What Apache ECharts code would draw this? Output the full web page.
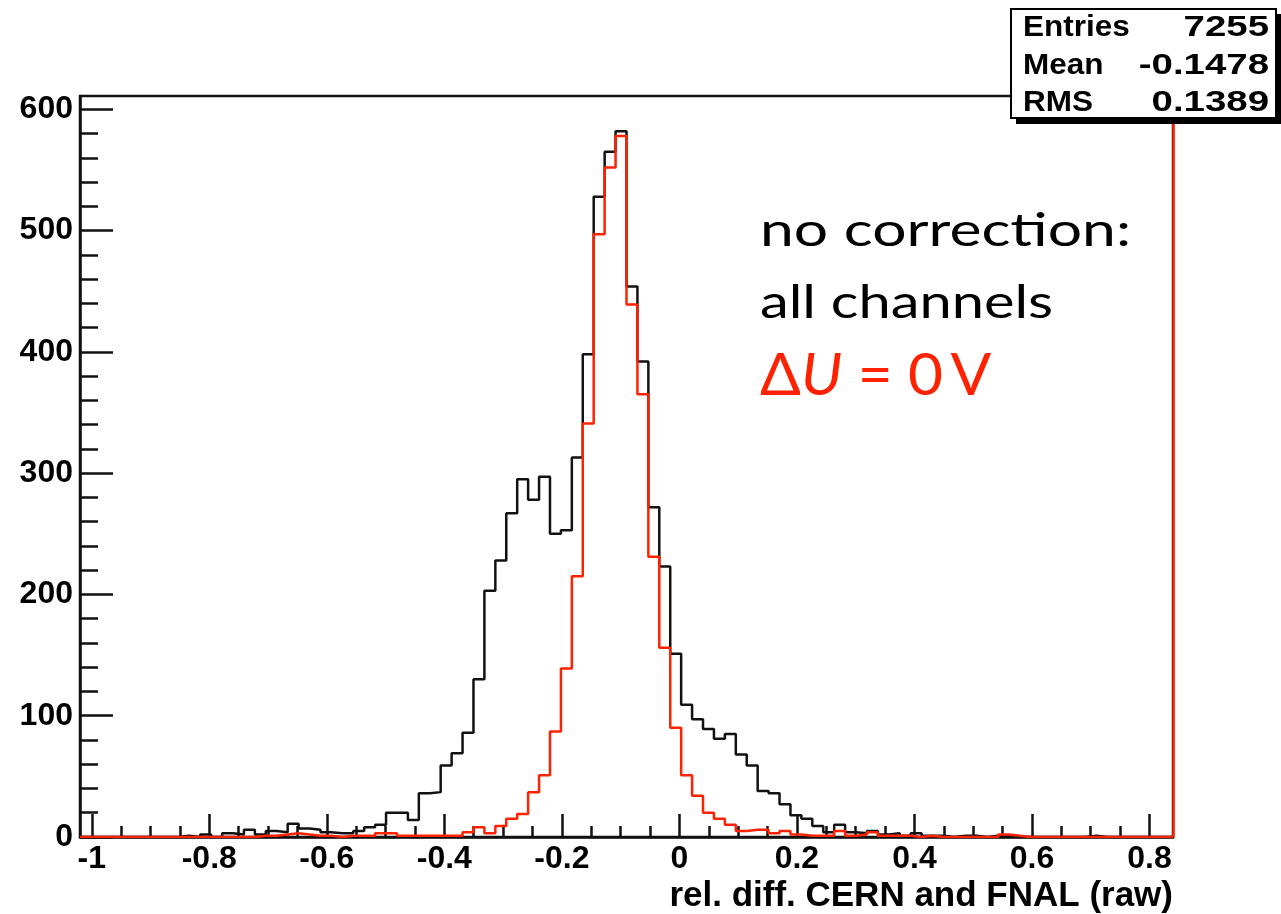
<!DOCTYPE html>
<html><head><meta charset="utf-8">
<script src="https://cdn.jsdelivr.net/npm/echarts@6/dist/echarts.min.js"></script>
<style>html,body{margin:0;padding:0;background:#fff}#c{width:1281px;height:914px}</style>
</head><body><div id="c"></div>
<script>
// ---- data ----
const binLow = -1.02;
const binWidth = 0.0186;
const xMin = -1.02;
const xMax = 0.84;
const yMin = 0;
const yMax = 611;

const blackCounts = [
  0,0,0,0,0,0,0,0,0,1,
  0,2,0,3,2,6,2,5,4,11,
  7,6,4,3,3,5,8,10,20,20,
  14,36,37,59,69,86,130,203,228,267,
  295,278,297,250,253,313,398,528,565,582,
  454,392,272,223,151,109,97,89,81,85,
  68,59,38,36,27,18,15,9,4,10,
  4,3,5,2,3,1,3,1,1,0,
  1,1,0,1,1,0,0,0,0,0,
  0,0,1,0,0,0,0,0,0,0
];
const redCounts = [
  0,0,0,0,0,0,0,0,0,0,
  0,0,0,0,0,0,1,1,2,3,
  2,1,1,0,1,1,1,3,3,1,
  1,1,1,1,1,4,8,3,9,15,
  19,37,51,87,139,215,341,497,552,578,
  439,365,231,156,90,51,34,20,15,10,
  5,6,6,3,5,2,1,1,1,5,
  1,2,4,1,1,1,0,1,0,0,
  0,0,0,0,2,1,0,0,0,0,
  0,0,0,0,0,0,0,0,0,0
];

const xMajorTicks = [-1, -0.8, -0.6, -0.4, -0.2, 0, 0.2, 0.4, 0.6, 0.8];
const xMinorTicks = [-1, -0.95, -0.9, -0.85, -0.8, -0.75, -0.7, -0.65, -0.6, -0.55, -0.5, -0.45, -0.4, -0.35, -0.3, -0.25, -0.2, -0.15, -0.1, -0.05, 0, 0.05, 0.1, 0.15, 0.2, 0.25, 0.3, 0.35, 0.4, 0.45, 0.5, 0.55, 0.6, 0.65, 0.7, 0.75, 0.8];
const yMajorTicks = [0, 100, 200, 300, 400, 500, 600];
const yMinorTicks = [0,20,40,60,80,100,120,140,160,180,200,220,240,260,280,300,320,340,360,380,400,420,440,460,480,500,520,540,560,580,600];

const xTitle = 'rel. diff. CERN and FNAL (raw)';
const statsLabels = ['Entries', 'Mean', 'RMS'];
const statsValues = ['7255', '-0.1478', '0.1389'];
const noteLines = ['no correction:', 'all channels'];

// ---- build ----
function stepData(counts) {
  const d = counts.map((v, i) => [binLow + i * binWidth, v]);
  d.push([binLow + counts.length * binWidth, counts[counts.length - 1]]);
  return d;
}

const RED = '#ff2200';
const INK = '#111';
const LBL = {fontFamily: 'Liberation Sans, Arial, sans-serif', fontWeight: 'bold', fontSize: 32, color: '#000'};

const chart = echarts.init(document.getElementById('c'), null, {renderer: 'canvas'});

const statsFont = 'bold 30px "Liberation Sans", Arial, sans-serif';
const statsGraphics = [];
statsGraphics.push({type: 'rect', z: 100, shape: {x: 1016, y: 14, width: 270, height: 110}, style: {fill: '#000'}});
statsGraphics.push({type: 'rect', z: 101, shape: {x: 1011, y: 9, width: 265, height: 109}, style: {fill: '#fff', stroke: '#000', lineWidth: 2}});
statsLabels.forEach((t, i) => {
  statsGraphics.push({type: 'text', z: 102, x: 1023, y: 28 + i * 37.5, scaleX: 1.05,
    style: {text: t, fill: '#000', font: statsFont, textAlign: 'left', textVerticalAlign: 'middle'}});
  statsGraphics.push({type: 'text', z: 102, x: 1269, y: 28 + i * 37.5, scaleX: 1.28,
    style: {text: statsValues[i], fill: '#000', font: statsFont, textAlign: 'right', textVerticalAlign: 'middle'}});
});

const noteFont = 'Lato, "Open Sans", sans-serif';
const noteGraphics = [
  {type: 'text', z: 50, x: 760, y: 231, scaleX: 1.29, style: {text: noteLines[0], fill: '#000', font: '47px ' + noteFont, textVerticalAlign: 'middle'}},
  {type: 'text', z: 50, x: 760, y: 303, scaleX: 1.23, style: {text: noteLines[1], fill: '#000', font: '47px ' + noteFont, textVerticalAlign: 'middle'}},
  {type: 'text', z: 50, x: 760, y: 376, scaleX: 1.04, style: {
    text: '{a|Δ}{b|U}{a| = 0\u2009V}', textVerticalAlign: 'middle',
    rich: {
      a: {fontFamily: noteFont, fontSize: 58, fill: RED, color: RED},
      b: {fontFamily: noteFont, fontSize: 58, fontStyle: 'italic', fill: RED, color: RED}
    }
  }}
];

const option = {
  animation: false,
  backgroundColor: '#fff',
  grid: {left: 80, top: 96, width: 1093, height: 742, show: true, borderColor: INK, borderWidth: 2.5, backgroundColor: 'transparent', containLabel: false},
  xAxis: [
    {type: 'value', position: 'bottom', min: xMin, max: xMax,
     axisLine: {show: true, onZero: false, lineStyle: {color: INK, width: 2.5}},
     axisTick: {show: true, inside: true, length: 23, customValues: xMajorTicks, lineStyle: {color: INK, width: 2.5}},
     axisLabel: Object.assign({show: true, margin: 6, customValues: xMajorTicks, formatter: v => String(v)}, LBL),
     splitLine: {show: false},
     name: xTitle, nameLocation: 'end', nameGap: 0,
     nameTextStyle: Object.assign({}, LBL, {fontSize: 35, align: 'right', verticalAlign: 'top', padding: [42, 0, 0, 0]})
    },
    {type: 'value', position: 'bottom', min: xMin, max: xMax,
     axisLine: {show: false, onZero: false},
     axisTick: {show: true, inside: true, length: 11, customValues: xMinorTicks, lineStyle: {color: INK, width: 2.5}},
     axisLabel: {show: false}, splitLine: {show: false}
    }
  ],
  yAxis: [
    {type: 'value', position: 'left', min: yMin, max: yMax,
     axisLine: {show: true, onZero: false, lineStyle: {color: INK, width: 2.5}},
     axisTick: {show: true, inside: true, length: 33, customValues: yMajorTicks, lineStyle: {color: INK, width: 2.5}},
     axisLabel: Object.assign({show: true, margin: 7, customValues: yMajorTicks}, LBL),
     splitLine: {show: false}
    },
    {type: 'value', position: 'left', min: yMin, max: yMax,
     axisLine: {show: false, onZero: false},
     axisTick: {show: true, inside: true, length: 18, customValues: yMinorTicks, lineStyle: {color: INK, width: 2.5}},
     axisLabel: {show: false}, splitLine: {show: false}
    }
  ],
  series: [
    {type: 'line', name: 'all channels', xAxisIndex: 0, yAxisIndex: 0, step: 'end', showSymbol: false, symbol: 'none',
     data: stepData(blackCounts), lineStyle: {color: INK, width: 2.5}, z: 3},
    {type: 'line', name: 'ΔU = 0 V', xAxisIndex: 0, yAxisIndex: 0, step: 'end', showSymbol: false, symbol: 'none',
     data: stepData(redCounts), lineStyle: {color: RED, width: 2.5}, z: 4,
     markLine: {silent: true, symbol: 'none', label: {show: false}, lineStyle: {color: RED, width: 2.5, type: 'solid'},
       data: [{xAxis: xMax}]}
    }
  ],
  graphic: noteGraphics.concat(statsGraphics)
};
chart.setOption(option);
</script>
</body></html>
